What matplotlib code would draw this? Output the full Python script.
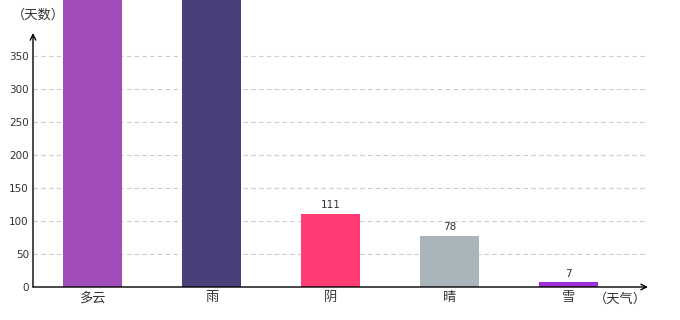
import matplotlib.pyplot as plt

plt.rcParams['font.family'] = ['Noto Sans CJK SC', 'DejaVu Sans']

categories = ['多云', '雨', '阴', '晴', '雪']
days = [480, 475, 111, 78, 7]
colors = ['#A04CBB', '#4B3F7B', '#FF3C73', '#A9B5BB', '#9F2FD6']
yticks = [0, 50, 100, 150, 200, 250, 300, 350]
ytop = 385

fig = plt.figure(figsize=(6.8, 3.2), dpi=100)
ax = fig.add_axes([33 / 680, 33 / 320, (648 - 33) / 680, 254 / 320])

x = range(len(categories))
ax.bar(x, days, width=0.5, color=colors, zorder=3, clip_on=False)
for xi, v in zip(x, days):
    # labels of the tall bars fall outside the picture in the original
    if v < ytop:
        ax.text(xi, v + 5, str(v), ha='center', va='bottom', fontsize=7.5,
                color='#333333', family='DejaVu Sans')

ax.set_xlim(-0.5, 4.67)
ax.set_ylim(0, ytop)
ax.set_yticks(yticks)
ax.set_yticklabels([str(t) for t in yticks], fontsize=7.5, color='#333333', family='DejaVu Sans')
ax.set_xticks(list(x))
ax.set_xticklabels(categories, fontsize=9.5, color='#333333')
ax.tick_params(length=0, pad=3)

for t in yticks[1:]:
    ax.axhline(t, color='#cccccc', lw=0.8, ls=(0, (4, 3)), zorder=1)

for s in ['top', 'right', 'left', 'bottom']:
    ax.spines[s].set_visible(False)

# axes with arrows
ax.annotate('', xy=(0, 1), xytext=(0, 0), xycoords='axes fraction',
            arrowprops=dict(arrowstyle='->', color='black', lw=1, shrinkA=0, shrinkB=0))
ax.annotate('', xy=(1, 0), xytext=(0, 0), xycoords='axes fraction',
            arrowprops=dict(arrowstyle='->', color='black', lw=1, shrinkA=0, shrinkB=0))

fig.text(12 / 680, 1 - 15 / 320, '（天数）', fontsize=9.5, color='#333333', va='center')
fig.text(594 / 680, 1 - 299 / 320, '（天气）', fontsize=9.5, color='#333333', va='center')

fig.savefig('out.png', dpi=100)
